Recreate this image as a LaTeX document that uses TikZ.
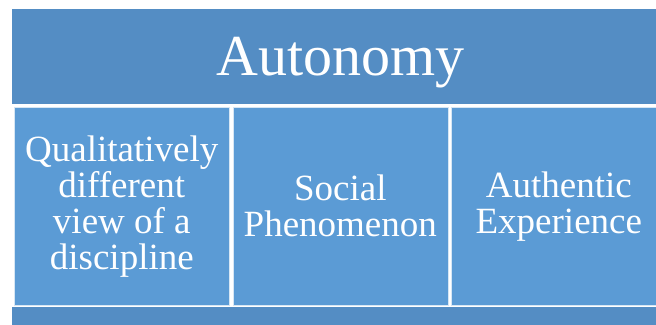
\documentclass[tikz,border=0pt]{standalone}
\usepackage{fontspec}
\setmainfont{Liberation Serif}
\usetikzlibrary{positioning}

\definecolor{bandblue}{RGB}{84,141,196}
\definecolor{cellblue}{RGB}{91,155,213}

\begin{document}
\begin{tikzpicture}[x=1pt,y=-1pt]
  \useasboundingbox (0,0) rectangle (656,324);
  \tikzset{
    band/.style={fill=bandblue, inner sep=0pt, minimum width=656pt, anchor=north west},
    cell/.style={fill=cellblue, draw=white!75!cellblue, line width=0.6pt, inner sep=0pt,
      minimum width=215pt, minimum height=198pt, anchor=north west,
      text=white, align=center, font=\fontsize{37}{36}\selectfont}
  }
  % Top band
  \node[band, minimum height=95pt, text=white, text depth=0pt,
    font=\fontsize{58}{60}\selectfont] (autonomy) at (12,9) {Autonomy};
  % Bottom bar
  \node[band, minimum height=20pt] (base) at (12,307) {};
  % Three cells
  \node[cell] (view) at (14,107) {Qualitatively\\different\\view of a\\discipline};
  \node[cell] (social) at (232.5,107) {Social\\Phenomenon};
  \node[cell] (authentic) at (451,107) {Authentic\\Experience};
\end{tikzpicture}
\end{document}
